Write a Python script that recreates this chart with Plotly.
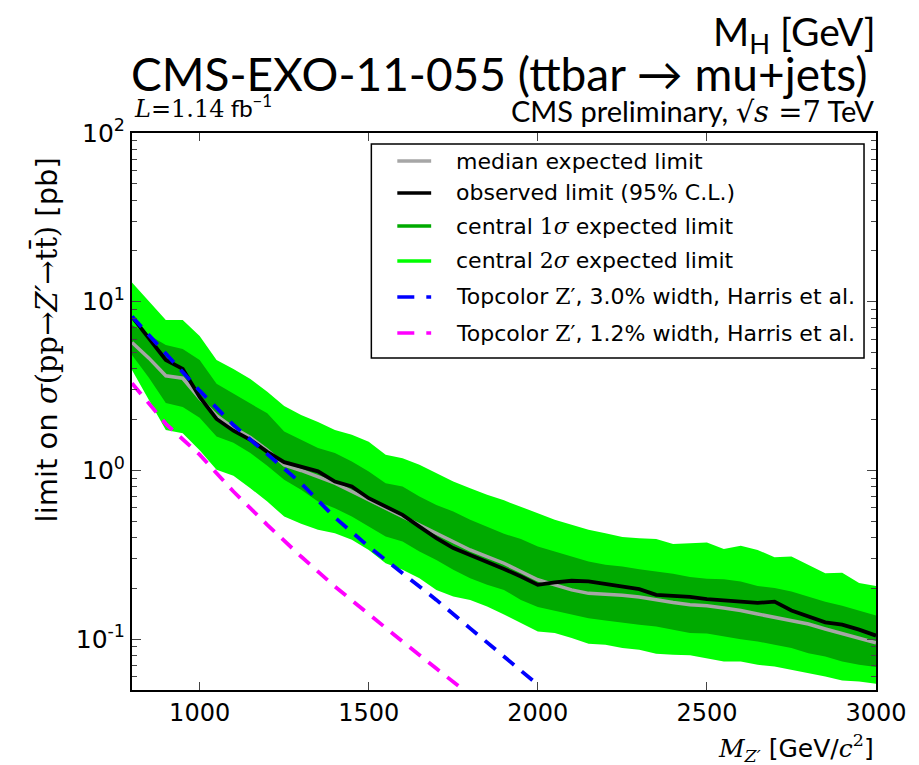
import plotly.graph_objects as go

# ---------------- data ----------------
mass = [800, 850, 900, 950, 1000, 1050, 1100, 1150, 1200, 1250, 1300, 1350,
        1400, 1450, 1500, 1550, 1600, 1650, 1700, 1750, 1800, 1850, 1900, 1950,
        2000, 2050, 2100, 2150, 2200, 2250, 2300, 2350, 2400, 2450, 2500, 2550,
        2600, 2650, 2700, 2750, 2800, 2850, 2900, 2950, 3000]

observed = [8.16, 6.08, 4.52, 4.00, 2.73, 2.02, 1.72, 1.52, 1.29, 1.12, 1.05, 0.988,
            0.859, 0.803, 0.685, 0.611, 0.546, 0.465, 0.397, 0.347, 0.316, 0.289, 0.261, 0.235,
            0.210, 0.217, 0.222, 0.220, 0.212, 0.205, 0.198, 0.183, 0.181, 0.178, 0.173, 0.171,
            0.167, 0.164, 0.167, 0.148, 0.136, 0.126, 0.122, 0.114, 0.105]

median = [5.74, 4.63, 3.64, 3.52, 2.68, 2.11, 1.79, 1.57, 1.32, 1.08, 1.00, 0.917,
          0.841, 0.750, 0.669, 0.598, 0.533, 0.476, 0.425, 0.379, 0.338, 0.309, 0.282, 0.252,
          0.225, 0.210, 0.196, 0.187, 0.185, 0.182, 0.178, 0.171, 0.165, 0.160, 0.158, 0.153,
          0.148, 0.141, 0.135, 0.129, 0.123, 0.115, 0.108, 0.1015, 0.0952]

up2 = [13.0, 10.1, 7.80, 7.80, 6.27, 4.52, 4.00, 3.49, 2.93, 2.41, 2.13, 1.94,
       1.74, 1.63, 1.48, 1.24, 1.18, 1.08, 0.964, 0.859, 0.785, 0.717, 0.665, 0.611,
       0.558, 0.510, 0.476, 0.445, 0.425, 0.403, 0.397, 0.392, 0.367, 0.369, 0.374, 0.342,
       0.358, 0.338, 0.306, 0.309, 0.276, 0.246, 0.248, 0.215, 0.207]

up1 = [7.29, 6.36, 5.55, 5.25, 4.52, 3.26, 2.84, 2.48, 2.18, 1.70, 1.52, 1.36,
       1.27, 1.13, 0.985, 0.841, 0.803, 0.700, 0.625, 0.571, 0.510, 0.465, 0.421, 0.392,
       0.354, 0.331, 0.309, 0.289, 0.276, 0.270, 0.260, 0.252, 0.244, 0.234, 0.228, 0.227,
       0.220, 0.207, 0.201, 0.192, 0.179, 0.167, 0.158, 0.148, 0.138]

down1 = [4.84, 3.54, 2.51, 2.38, 2.05, 1.59, 1.46, 1.27, 1.065, 0.880, 0.768, 0.654,
         0.598, 0.533, 0.465, 0.406, 0.379, 0.331, 0.295, 0.258, 0.230, 0.210, 0.196, 0.171,
         0.155, 0.146, 0.140, 0.133, 0.129, 0.126, 0.122, 0.119, 0.114, 0.109, 0.108, 0.104,
         0.100, 0.0969, 0.0926, 0.0886, 0.0827, 0.0790, 0.0738, 0.0705, 0.0684]

down2 = [3.94, 2.62, 1.74, 1.66, 1.32, 1.01, 0.929, 0.785, 0.654, 0.533, 0.483, 0.445,
         0.425, 0.388, 0.338, 0.282, 0.258, 0.230, 0.196, 0.179, 0.171, 0.156, 0.140, 0.125,
         0.111, 0.109, 0.1015, 0.0939, 0.0926, 0.0886, 0.0866, 0.0819, 0.0808, 0.0804, 0.0773, 0.0738,
         0.0738, 0.0705, 0.0689, 0.0658, 0.0630, 0.0601, 0.0569, 0.0562, 0.0544]

mass_theory = [800, 900, 1000, 1100, 1200, 1300, 1400, 1500, 1600, 1700, 1800, 1900, 2000]
topcolor_30 = [8.17, 4.95, 2.97, 1.86, 1.24, 0.84, 0.526, 0.354, 0.246, 0.171, 0.116, 0.079, 0.0537]
topcolor_12 = [3.29, 1.89, 1.24, 0.75, 0.476, 0.309, 0.205, 0.140, 0.0969, 0.067, 0.046, 0.0324, 0.0228]

x_ticks = [1000, 1500, 2000, 2500, 3000]
y_ticks = [0.1, 1, 10, 100]
y_ticktext = ["10<sup>-1</sup>", "10<sup>0</sup>", "10<sup>1</sup>", "10<sup>2</sup>"]
y_minor = [0.06, 0.07, 0.08, 0.09, 0.2, 0.3, 0.4, 0.5, 0.6, 0.7, 0.8, 0.9,
           2, 3, 4, 5, 6, 7, 8, 9, 20, 30, 40, 50, 60, 70, 80, 90]

# ---------------- styling ----------------
LIGHT = "#00ff00"
DARK = "#00aa00"
GREY = "#a6a6a6"
BLUE = "#0000ff"
MAGENTA = "#ff00ff"
SERIF = "DejaVu Serif"
SANS = "DejaVu Sans"
TITLEFONT = "Lato"
DASH = "14px,10px"

fig = go.Figure()

# bands
fig.add_trace(go.Scatter(x=mass + mass[::-1], y=up2 + down2[::-1], fill="toself",
                         fillcolor=LIGHT, line=dict(width=0), mode="lines",
                         name="central 2σ expected limit", hoverinfo="skip"))
fig.add_trace(go.Scatter(x=mass + mass[::-1], y=up1 + down1[::-1], fill="toself",
                         fillcolor=DARK, line=dict(width=0), mode="lines",
                         name="central 1σ expected limit", hoverinfo="skip"))
# curves
fig.add_trace(go.Scatter(x=mass, y=median, mode="lines", line=dict(color=GREY, width=3.5),
                         name="median expected limit"))
fig.add_trace(go.Scatter(x=mass, y=observed, mode="lines", line=dict(color="black", width=3.8),
                         name="observed limit (95% C.L.)"))
fig.add_trace(go.Scatter(x=mass_theory, y=topcolor_30, mode="lines",
                         line=dict(color=BLUE, width=3.8, dash=DASH),
                         name="Topcolor Z′, 3.0% width"))
fig.add_trace(go.Scatter(x=mass_theory, y=topcolor_12, mode="lines",
                         line=dict(color=MAGENTA, width=3.8, dash=DASH),
                         name="Topcolor Z′, 1.2% width"))

# page has an 8px body margin: figure slightly smaller, margins compensated
W, H = 911, 757
L, R, T, B = 124, 41, 125, 75

fig.update_layout(
    width=W, height=H,
    margin=dict(l=L, r=R, t=T, b=B),
    paper_bgcolor="white", plot_bgcolor="white",
    font=dict(family=SANS, size=20, color="black"),
    showlegend=False,
    xaxis=dict(range=[800, 3000], tickvals=x_ticks, ticks="inside", ticklen=8, tickwidth=1,
               tickcolor="#444", showline=True, linecolor="black", linewidth=2, mirror="allticks",
               showgrid=False, zeroline=False, tickfont=dict(family=SANS, size=24)),
    yaxis=dict(type="log", range=[-1.30103, 2], tickvals=y_ticks, ticktext=y_ticktext,
               ticks="inside", ticklen=9, tickwidth=1, tickcolor="#444",
               showline=True, linecolor="black", linewidth=2, mirror="allticks",
               showgrid=False, zeroline=False, tickfont=dict(family=SANS, size=25),
               minor=dict(tickvals=y_minor, ticks="inside", ticklen=5, tickwidth=1, tickcolor="#444")),
)

# ---------------- manual legend (box, samples, labels) ----------------
leg_x0, leg_x1, leg_y0, leg_y1 = 0.3217, 0.9839, 0.5961, 0.9803
row_y = [0.9497, 0.8923, 0.8330, 0.7702, 0.7056, 0.6409]
sample_x0, sample_x1, text_x = 0.3566, 0.4021, 0.4330
sig1 = "<span style='font-family:%s'>1<i>σ</i></span>" % SERIF
sig2 = "<span style='font-family:%s'>2<i>σ</i></span>" % SERIF
zp = "<span style='font-family:%s'>Z′</span>" % SERIF
legend_items = [
    ("median expected limit", GREY, "solid"),
    ("observed limit (95% C.L.)", "black", "solid"),
    ("central " + sig1 + " expected limit", DARK, "solid"),
    ("central " + sig2 + " expected limit", LIGHT, "solid"),
    ("Topcolor " + zp + ", 3.0% width, Harris et al.", BLUE, "17px,12px"),
    ("Topcolor " + zp + ", 1.2% width, Harris et al.", MAGENTA, "17px,12px"),
]
shapes = [dict(type="rect", xref="paper", yref="paper", x0=leg_x0, x1=leg_x1, y0=leg_y0, y1=leg_y1,
               line=dict(color="black", width=1.5), fillcolor="white", layer="above")]
annotations = []
for (label, color, dash), yy in zip(legend_items, row_y):
    shapes.append(dict(type="line", xref="paper", yref="paper", x0=sample_x0, x1=sample_x1,
                       y0=yy, y1=yy, line=dict(color=color, width=3.5, dash=dash), layer="above"))
    annotations.append(dict(text=label, x=text_x, y=yy, xanchor="left", yanchor="middle",
                            font=dict(family=SANS, size=22)))

annotations += [
    dict(text="M<sub>H</sub> [GeV]", x=1.003, y=1.178, xanchor="right", yanchor="middle",
         font=dict(family=TITLEFONT, size=39)),
    dict(text="CMS-EXO-11-055 (ttbar → mu+jets)", x=-0.004, y=1.106, xanchor="left", yanchor="middle",
         font=dict(family=TITLEFONT, size=46)),
    dict(text="<span style='font-family:%s'><i>L</i>=1.14</span> fb<sup>−1</sup>" % SERIF,
         x=0.0, y=1.047, xanchor="left", yanchor="middle", font=dict(family=TITLEFONT, size=24)),
    dict(text="CMS preliminary, <span style='font-family:%s'>√<i>s</i> =7</span> TeV" % SERIF,
         x=1.0, y=1.040, xanchor="right", yanchor="middle", font=dict(family=TITLEFONT, size=29)),
    dict(text="limit on <span style='font-family:%s'><i>σ</i>(pp→<i>Z′</i>→tt̄)</span> [pb]" % SERIF,
         x=-0.1153, y=0.628, xanchor="center", yanchor="middle", textangle=-90,
         font=dict(family=SANS, size=29)),
    dict(text="<span style='font-family:%s'><i>M</i><sub><i>Z′</i></sub></span> [GeV/<span style='font-family:%s'><i>c</i><sup>2</sup></span>]" % (SERIF, SERIF),
         x=1.0, y=-0.105, xanchor="right", yanchor="middle", font=dict(family=SANS, size=25)),
]
for a in annotations:
    a.update(xref="paper", yref="paper", showarrow=False)
fig.update_layout(annotations=annotations, shapes=shapes)

fig.write_html("out.html")
